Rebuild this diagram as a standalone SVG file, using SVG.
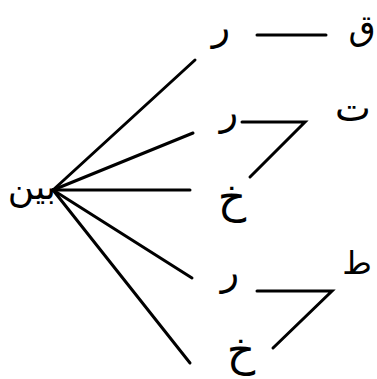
<svg xmlns="http://www.w3.org/2000/svg" width="377" height="379" viewBox="0 0 377 379">
<style>
.t{font-family:"Noto Sans","DejaVu Sans",sans-serif;fill:#000;text-anchor:middle}
.c{stroke:#000;stroke-width:3;fill:none;stroke-linecap:round;stroke-linejoin:miter}
</style>
<rect width="377" height="379" fill="#fff"/>
<g id="connectors">
<path class="c" d="M53,190 L195,60"/>
<path class="c" d="M53,190 L193,133"/>
<path class="c" d="M53,190 L190,190"/>
<path class="c" d="M53,190 L192,278"/>
<path class="c" d="M53,190 L190,363"/>
<path class="c" d="M257,35 L326,35"/>
<path class="c" d="M242,122 L305,122 L250,177"/>
<path class="c" d="M257,291 L332,291 L273,348"/>
</g>
<g id="bayn"><text class="t" x="32" y="199" font-size="36">بين</text></g>
<g id="ra1"><text class="t" x="221" y="40" font-size="38">ر</text></g>
<g id="qaf"><text class="t" x="362" y="39" font-size="35">ق</text></g>
<g id="ta"><text class="t" x="353" y="121" font-size="38">ت</text></g>
<g id="ra2"><text class="t" x="229" y="125" font-size="38">ر</text></g>
<g id="kha1"><text class="t" x="232" y="212" font-size="44">خ</text></g>
<g id="ta2"><text class="t" x="357" y="274" font-size="32">ط</text></g>
<g id="ra3"><text class="t" x="230" y="285" font-size="38">ر</text></g>
<g id="kha2"><text class="t" x="241" y="365" font-size="44">خ</text></g>
</svg>
